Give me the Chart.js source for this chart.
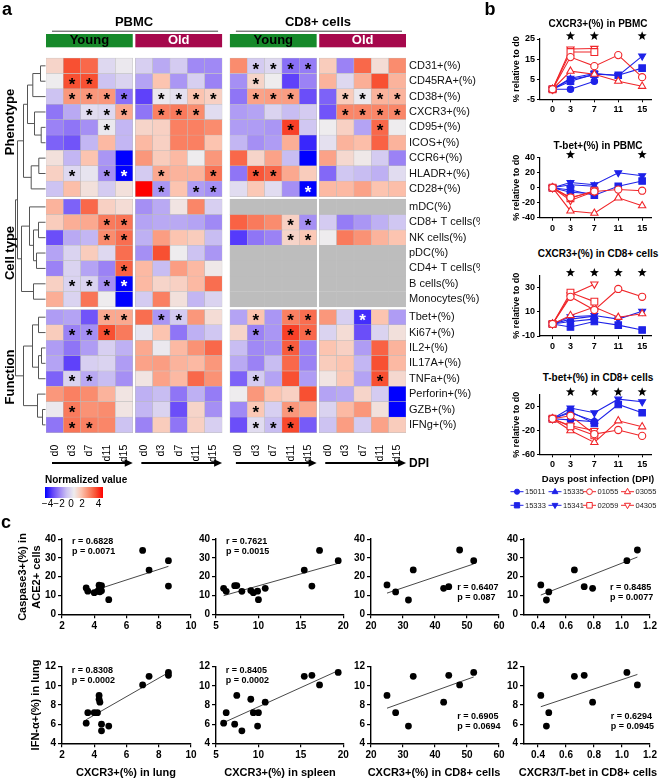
<!DOCTYPE html>
<html>
<head>
<meta charset="utf-8">
<script src="https://cdn.jsdelivr.net/npm/chart.js@4.4.1/dist/chart.umd.min.js"></script>
<style>
  html, body { margin: 0; padding: 0; background: #fff; }
  #page { position: relative; width: 659px; height: 779px; overflow: hidden;
          font-family: "Liberation Sans", Arial, Helvetica, sans-serif; color: #000; }
  .box { position: absolute; }
  .txt { position: absolute; white-space: nowrap; line-height: 1; transform: translate(-50%, -50%); }
</style>
</head>
<body>
<div id="page"></div>
<script>
// ---------- panel a : heatmap ----------
const rowNames = ['CD31+(%)', 'CD45RA+(%)', 'CD38+(%)', 'CXCR3+(%)', 'CD95+(%)', 'ICOS+(%)', 'CCR6+(%)', 'HLADR+(%)', 'CD28+(%)',
  'mDC(%)', 'CD8+ T cells(%)', 'NK cells(%)', 'pDC(%)', 'CD4+ T cells(%)', 'B cells(%)', 'Monocytes(%)',
  'Tbet+(%)', 'Ki67+(%)', 'IL2+(%)', 'IL17A+(%)', 'TNFa+(%)', 'Perforin+(%)', 'GZB+(%)', 'IFNg+(%)'];
const rowBlocks = ['Phenotype', 'Cell type', 'Function'];
const dayLabels = ['d0', 'd3', 'd7', 'd11', 'd15'];
const groupNames = ['Young', 'Old', 'Young', 'Old'];
const tissueNames = ['PBMC', 'CD8+ cells'];
const NA = [null, null, null, null, null];

const pbmcYoung = [
  [0.6, 3, 2.6, -0.5, -0.1], [0, 3, 3, -1, -0.6], [-1, 1.8, 1.8, 1.8, -2.3], [-2.2, -1.4, -0.4, -0.5, 1.5],
  [-2, -2.2, -1.8, -0.1, -1.2], [-2.5, -2.7, -1.2, 1.2, -1.2], [0.3, -1.2, 1, -1.7, -4], [0.7, -0.5, -0.2, -1.8, -4],
  [-1, 1.1, 0.3, -0.8, 0.3],
  [1.3, -2.5, 2.6, 0.7, 0.4], [0.8, 1.4, 1.5, 2.3, 2.4], [-2.8, -1.4, -1.2, 2, 2.5], [-1.5, -0.6, 0.8, -0.5, 2.5],
  [-2, -0.6, -1.5, -2, 2.7], [0.7, -0.6, -0.6, -1.8, -4], [1.4, -0.6, 2.4, 0, -4],
  [-1.6, -1.5, -2.7, 1.5, 1.5], [0.8, -2, -1.8, 3, 2.3], [-1.6, -2.2, -1.6, -0.7, -1.3], [-1.5, -3, -0.7, -0.6, -1.6],
  [-2.5, -0.6, -1.4, -1.1, -1.8], [1.8, 2.2, 2, 1.3, 0.2], [-0.1, 2.3, 1.9, 2, 0.2], [-2.2, 2.4, 2.2, 2.1, -1]
];
const pbmcOld = [
  [-0.7, -1.4, -0.8, -1.9, -1.9], [-1.5, 1, -1.7, -0.7, -2], [-3, -0.1, -0.3, 1, 0.7], [-2.2, 2.2, 2.3, 2, -0.4],
  [0.6, 0.7, 2.2, 2.2, 2], [1.2, 0.7, 2.2, 2.2, 1], [1.8, 0.8, 1.2, 0, 1.8], [-0.8, 1.5, 1.3, 1.3, 2.4],
  [4, -1.7, 1, -1.6, -1.8],
  [-1.8, -1.4, 0.2, 2.1, -0.7], [-1.5, -1.4, -1.4, -1.5, -1.9], [-1.3, 1.7, 1, 0.8, -1.1], [-1.8, 3, 0, -1, -1.7],
  [1.2, -1.1, 1.7, 1.2, 0.1], [1.2, 0.6, 0.7, 1.2, 2.5], [-0.8, 2.2, 0.3, -1.2, -0.6],
  [2.5, -1.7, -0.8, 1.8, 0.4], [-0.2, 1, -2.2, -1.3, -0.9], [1.5, -0.1, 1.2, 1.9, 2.6], [1.6, 1.7, 1.3, 1.2, 1.8],
  [0.2, 1.6, 1.2, 2.6, 1.9], [-1.3, -1.1, -2.2, -1.3, -2.1], [-1.2, -0.6, -2.8, 0.6, -1.8], [-2, 0.8, -2.2, 0.7, -0.7]
];
const cd8Young = [
  [2, -0.8, -0.5, -2.3, -2.1], [-1.8, 0.6, 0, -3, -2], [-2.2, 1.6, 1.7, 1.7, -2.8], [-1.6, -1.5, -0.6, -1.1, -0.8],
  [-1.6, -1.6, -1.7, 3.2, -0.9], [-1.2, -1.8, -1.6, 1.4, -3.4], [2.6, 0.6, 1.6, -1.1, -4], [-2.2, 2.9, 2.6, 1.5, 0.8],
  [-0.4, 0.9, -0.4, -1.8, -4],
  NA, [2.7, 2.3, 2, 0.7, -1.8], [-3.1, -2.2, -2, 0.6, 0.9], NA, NA, NA, NA,
  [-1.5, 1, -1.7, 2.2, 2.5], [0.6, -2, -1.7, 3.2, 2.6], [-1.1, -1.9, -1.8, 2.8, -2], [-1.4, -2, -1.1, 2.6, -2],
  [-2.5, -0.8, -1.5, 3, -1.6], [0, 1.8, 1, 0.7, 3], [-1.9, 0.9, -0.7, 1.8, 1.5], [-2.8, -0.4, -1.1, 3.1, -2.6]
];
const cd8Old = [
  [0.8, -2, 2.6, 0.4, 2], [1.3, -0.5, 1.4, 3, 1.3], [-2.5, 0.8, -0.1, 1.3, 1.3], [-2.7, 2.1, 2.1, 2.1, 2.1],
  [0, 0.7, -1.5, 2.6, 0], [-0.3, 1.3, 1.1, 2.7, 1.3], [1.6, 0.5, 0.1, -0.8, -2], [-2.4, -0.9, -1.1, -1.3, -0.4],
  [1.2, 1.2, 1.6, 1, 1.1],
  NA, [-0.8, -2.1, -1.7, -1.3, -0.9], [0, 2.3, 1.9, 1.3, 1], NA, NA, NA, NA,
  [1.8, -0.7, -3.3, 1, -1.6], [-0.6, 0.4, -2.8, -0.6, 0.3], [1, 0.7, -1.6, 2.7, 1.3], [0.8, 1, -1.2, 3, 1.2],
  [0.2, 0.9, -1.5, 3, 0.5], [-1.5, -1.4, 0.6, -0.8, -4], [-0.6, 1.2, 1.8, 0.3, -4], [-1, 1.7, -0.8, 1.6, 0.8]
];
// significance marks: 1 = black star, 2 = white star
const pbmcYoungSig = ['00000', '01100', '01111', '00111', '00010', '00000', '00000', '01012', '00000',
  '00000', '00011', '00011', '00000', '00001', '01112', '00000',
  '00011', '01110', '00000', '00000', '01100', '00000', '01000', '01100'];
const pbmcOldSig = ['00000', '00000', '01111', '01110', '00000', '00000', '00000', '01001', '01011',
  '00000', '00000', '00000', '00000', '00000', '00000', '00000',
  '01100', '00000', '00000', '00000', '00000', '00000', '00000', '00000'];
const cd8YoungSig = ['01111', '01000', '01110', '00000', '00010', '00000', '00000', '01100', '00002',
  '00000', '00011', '00011', '00000', '00000', '00000', '00000',
  '01011', '01011', '00010', '00000', '01000', '00000', '01010', '01110'];
const cd8OldSig = ['00000', '00000', '01111', '01111', '00010', '00000', '00000', '00000', '00000',
  '00000', '00000', '00000', '00000', '00000', '00000', '00000',
  '00200', '00000', '00000', '00000', '00010', '00000', '00000', '00000'];
// row clustering: [left, right, height]; negative = earlier merge (-1 -> merge 0)
const dendroMerges = [
  [0, 1, 5], [-1, 2, 12.7], [4, 5, 4.3], [3, -3, 11], [-2, -4, 18], [6, 7, 6.7], [-6, 8, 14.3], [-5, -7, 22],
  [10, 11, 7], [12, 13, 9], [-9, -10, 12], [9, -11, 16], [14, 15, 12], [-12, -13, 24],
  [18, 19, 4], [-15, 20, 7], [16, 17, 7], [-17, -16, 13], [22, 23, 3], [21, -19, 8], [-18, -20, 22],
  [-8, -14, 28], [-22, -21, 30]
];
const colorTicks = [-4, -2, 0, 2, 4];

// ---------- panel b : longitudinal ----------
const days = [0, 3, 7, 11, 15];
const subjects = ['15011', '15333', '15335', '15341', '01055', '02059', '03055', '04305'];
const cxcr3PbmcRel = [[0, 0, 4], [0, 4, 7.5, 7, 10.5], [0, 5, 7], [0, 5.5, 7.8, 6.8, 16.5],
  [0, 16, 11.5, 17, 6], [0, 18.5, 18.5], [0, 9, 7.5, 4, 1.5], [0, 20, 20.3]];
const tbetPbmcRel = [[0, -6, -8], [0, -3, -10, 2, 9], [0, 4, 2], [0, 7, 4, 20, 16],
  [0, -13, -5, -2.5, -4], [0, -14, -4], [0, -31, -34, -13.5, -24], [0, -17, -5]];
const cxcr3Cd8Rel = [[0, 2, 4], [0, -2.5, 2, -1, -5], [0, 4, 6.5], [0, 6, 7, 4, 10.5],
  [0, 22.5, 11.5, 29, 22.5], [0, 26, 18.5], [0, 7, 14, 5.5, 8.5], [0, 24, 33]];
const tbetCd8Rel = [[0, -2, -5], [0, 12, -8, 24, 10], [0, 10, -4], [0, 18, 10, 33, 28.5],
  [0, 5, -26, -19, -29], [0, -13, -28], [0, -20, -40, -3.5, -13.5], [0, -12, -20]];
const cxcr3PbmcSig = [3, 7, 15];
const tbetPbmcSig = [3, 15];
const cxcr3Cd8Sig = [3, 7, 11, 15];
const tbetCd8Sig = [3, 7, 11, 15];

// ---------- panel c : correlations ----------
const lungCxcr3 = [3.5, 3.6, 4.0, 4.2, 4.3, 4.3, 4.35, 4.45, 4.45, 4.9, 7.0, 7.4, 8.6, 8.6];
const caspaseByLung = [14.0, 12.3, 11.5, 12.2, 15.5, 13.2, 12.0, 15.2, 12.5, 7.8, 34.0, 23.5, 15.0, 28.5];
const ifnByLung = [6.1, 7.2, 7.2, 7.2, 9.0, 8.6, 8.3, 6.0, 5.3, 5.8, 10.1, 11.0, 11.1, 11.4];
const spleenCxcr3 = [5.9, 6.2, 7.2, 7.45, 8.05, 9.1, 9.4, 9.9, 10.0, 10.8, 15.4, 16.3, 17.2, 19.4];
const caspaseBySpleen = [13.8, 12.2, 15.2, 15.3, 12.2, 12.6, 11.5, 12.3, 7.8, 13.8, 23.5, 15.0, 34.0, 28.5];
const ifnBySpleen = [6.1, 7.2, 6.0, 9.0, 5.3, 8.6, 7.2, 5.8, 7.2, 8.3, 11.0, 11.1, 10.1, 11.4];
const cd8Cxcr3 = [25, 27.7, 31.7, 33.2, 42.7, 44.3, 47.7, 52.1];
const cd8Ratio = [0.42, 0.477, 0.46, 0.66, 0.79, 0.73, 1.11, 1.035];
const caspaseByCd8 = [15.6, 11.9, 7.6, 23.6, 13.8, 14.7, 34.2, 28.5];
const ifnByCd8 = [9.0, 7.2, 5.8, 11.0, 8.3, 11.1, 10.1, 11.4];
const statTop = [['r = 0.6828', 'p = 0.0071'], ['r = 0.7621', 'p = 0.0015'], ['r = 0.6407', 'p = 0.087'], ['r = 0.8485', 'p = 0.0077']];
const statBottom = [['r = 0.8308', 'p = 0.0002'], ['r = 0.8405', 'p = 0.0002'], ['r = 0.6905', 'p = 0.0694'], ['r = 0.6294', 'p = 0.0945']];

// =====================================================================
const FONT = '"Liberation Sans", Arial, Helvetica, sans-serif';
Chart.defaults.font.family = FONT;
Chart.defaults.color = '#000';
const page = document.getElementById('page');
const BLUE = '#1e22e8', RED = '#f0262a';

function place(left, top, w, h) {
  const div = document.createElement('div');
  div.className = 'box';
  div.style.cssText = `left:${left}px;top:${top}px;width:${w}px;height:${h}px`;
  const cv = document.createElement('canvas');
  cv.width = w; cv.height = h;
  cv.style.width = w + 'px'; cv.style.height = h + 'px';
  div.appendChild(cv);
  page.appendChild(div);
  return cv;
}
function text(str, x, y, css, anchor) {
  const d = document.createElement('div');
  d.className = 'txt';
  d.textContent = str;
  d.style.cssText = `left:${x}px;top:${y}px;` + (css || '');
  if (anchor === 'left') d.style.transform = 'translate(0,-50%)';
  if (anchor === 'rot') d.style.transform = 'translate(-50%,-50%) rotate(-90deg)';
  page.appendChild(d);
  return d;
}

const colorStops = [[-4, [0, 0, 255]], [-3, [95, 65, 250]], [-2, [155, 130, 245]], [-1, [205, 195, 242]],
  [0, [238, 236, 238]], [1, [252, 196, 176]], [2, [250, 140, 110]], [3, [248, 80, 50]], [4, [255, 0, 0]]];
function heatColor(v) {
  if (v <= colorStops[0][0]) return `rgb(${colorStops[0][1]})`;
  for (let i = 1; i < colorStops.length; i++) {
    if (v <= colorStops[i][0]) {
      const [v0, c0] = colorStops[i - 1], [v1, c1] = colorStops[i];
      const t = (v - v0) / (v1 - v0);
      return `rgb(${c0.map((c, k) => Math.round(c + (c1[k] - c) * t)).join(',')})`;
    }
  }
  return 'rgb(255,0,0)';
}

// ---------- heatmap ----------
const groupVals = [pbmcYoung, pbmcOld, cd8Young, cd8Old];
const groupSigs = [pbmcYoungSig, pbmcOldSig, cd8YoungSig, cd8OldSig];
const groupOffsets = [0, 5.15, 10.6, 15.75];
const ROW_GAP = 0.17;
const hmRows = rowNames.map((_, i) => i + 0.5 + ROW_GAP * ((i >= 9) + (i >= 16)));
const colCenters = [];
groupOffsets.forEach(o => dayLabels.forEach((_, c) => colCenters.push(o + c + 0.5)));

const hmDatasets = groupVals.map((vals, g) => {
  const data = [], bg = [], bd = [];
  vals.forEach((row, r) => row.forEach((v, c) => {
    data.push({ x: [groupOffsets[g] + c, groupOffsets[g] + c + 1], y: hmRows[r] });
    bg.push(v === null ? '#bdbdbd' : heatColor(v));
    bd.push(v === null ? '#bdbdbd' : '#bcbcbc');
  }));
  return { data, backgroundColor: bg, borderColor: bd, borderWidth: 0.5, borderSkipped: false };
});

function drawArrow(ctx, x0, x1, y) {
  ctx.beginPath(); ctx.moveTo(x0, y); ctx.lineTo(x1 - 6, y); ctx.stroke();
  ctx.beginPath(); ctx.moveTo(x1, y); ctx.lineTo(x1 - 8, y - 3.8); ctx.lineTo(x1 - 8, y + 3.8); ctx.closePath(); ctx.fill();
}

const heatDecor = {
  id: 'heatDecor',
  afterDatasetsDraw(chart) {
    const { ctx, scales: { x, y } } = chart;
    ctx.save();
    ctx.font = `bold 17px ${FONT}`;
    ctx.textAlign = 'center'; ctx.textBaseline = 'middle';
    groupSigs.forEach((sig, g) => sig.forEach((s, r) => {
      for (let c = 0; c < 5; c++) {
        if (s[c] === '0') continue;
        ctx.fillStyle = s[c] === '2' ? '#fff' : '#000';
        ctx.fillText('*', x.getPixelForValue(groupOffsets[g] + c + 0.5), y.getPixelForValue(hmRows[r]) + 4);
      }
    }));
    ctx.restore();
  },
  afterDraw(chart) {
    const { ctx, chartArea: area, scales: { x, y } } = chart;
    ctx.save();
    ctx.textAlign = 'center'; ctx.textBaseline = 'middle';
    // group header bars
    groupNames.forEach((name, g) => {
      const x0 = x.getPixelForValue(groupOffsets[g]), x1 = x.getPixelForValue(groupOffsets[g] + 5);
      ctx.fillStyle = g % 2 ? '#a6084c' : '#16892a';
      ctx.fillRect(x0, area.top - 16, x1 - x0, 13.3);
      ctx.fillStyle = g % 2 ? '#fff' : '#000';
      ctx.font = `bold 13px ${FONT}`;
      ctx.fillText(name, (x0 + x1) / 2, area.top - 9.2);
    });
    tissueNames.forEach((name, t) => {
      const x0 = x.getPixelForValue(groupOffsets[2 * t]), x1 = x.getPixelForValue(groupOffsets[2 * t + 1] + 5);
      ctx.fillStyle = '#000';
      ctx.font = `bold 13px ${FONT}`;
      ctx.fillText(name, (x0 + x1) / 2, area.top - 27.5);
      ctx.strokeStyle = '#444'; ctx.lineWidth = 1;
      ctx.beginPath(); ctx.moveTo(x0 + 6, area.top - 18.8); ctx.lineTo(x1 - 4, area.top - 18.8); ctx.stroke();
    });
    // DPI arrows
    ctx.strokeStyle = '#000'; ctx.fillStyle = '#000'; ctx.lineWidth = 2;
    groupOffsets.forEach(o => drawArrow(ctx, x.getPixelForValue(o) + 6, x.getPixelForValue(o + 5), area.bottom + 22.3));
    ctx.font = `bold 12px ${FONT}`; ctx.textAlign = 'left';
    ctx.fillText('DPI', x.getPixelForValue(groupOffsets[3] + 5) + 3, area.bottom + 22.8);
    // dendrogram
    const leafX = area.left - 0.5, pos = [];
    const node = k => k >= 0 ? { x: leafX, y: y.getPixelForValue(hmRows[k]) } : pos[-k - 1];
    ctx.strokeStyle = '#555'; ctx.lineWidth = 1;
    dendroMerges.forEach(([a, b, h]) => {
      const A = node(a), B = node(b), nx = leafX - h;
      ctx.beginPath();
      ctx.moveTo(A.x, A.y); ctx.lineTo(nx, A.y); ctx.lineTo(nx, B.y); ctx.lineTo(B.x, B.y);
      ctx.stroke();
      pos.push({ x: nx, y: (A.y + B.y) / 2 });
    });
    ctx.restore();
  }
};

const HM_W = 480, HM_H = 515;
new Chart(place(0, 0, HM_W, HM_H), {
  type: 'bar',
  data: { datasets: hmDatasets },
  options: {
    indexAxis: 'y', responsive: false, animation: false, events: [],
    datasets: { bar: { grouped: false, barPercentage: 1, categoryPercentage: 1 } },
    layout: { padding: { left: 46, top: 50, right: 0, bottom: 0 } },
    plugins: { legend: { display: false }, tooltip: { enabled: false } },
    scales: {
      x: {
        type: 'linear', position: 'bottom', min: 0, max: 20.75,
        grid: { display: false, drawTicks: false, tickLength: 0 }, border: { display: false },
        afterBuildTicks: s => { s.ticks = colCenters.map(v => ({ value: v })); },
        ticks: { autoSkip: false, minRotation: 90, maxRotation: 90, padding: 4, font: { size: 10.5 }, color: '#000',
          callback: (v, i) => dayLabels[i % 5] },
        afterFit: s => { s.height = HM_H - 440.7; }
      },
      y: {
        type: 'linear', position: 'right', reverse: true, min: 0, max: 24 + 2 * ROW_GAP,
        grid: { display: false, drawTicks: false, tickLength: 0 }, border: { display: false },
        afterBuildTicks: s => { s.ticks = hmRows.map(v => ({ value: v })); },
        ticks: { autoSkip: false, padding: 3, font: { size: 11 }, color: '#111', callback: (v, i) => rowNames[i] },
        afterFit: s => { s.width = HM_W - 406; }
      }
    }
  },
  plugins: [heatDecor]
});

// heatmap side texts and colour key
text('a', 7, 9, 'font-size:18px;font-weight:bold;');
const blockCenters = [122, 253, 377];
rowBlocks.forEach((b, i) => text(b, 9, blockCenters[i], 'font-size:13px;font-weight:bold;', 'rot'));
text('Normalized value', 45, 479.7, 'font-size:10px;font-weight:bold;', 'left');
const key = document.createElement('div');
key.className = 'box';
const keyStops = [-4, -3, -2, -1, 0, 1, 2, 3, 4].map((v, i) => `${heatColor(v)} ${i * 12.5}%`).join(',');
key.style.cssText = `left:45px;top:486.7px;width:58px;height:11px;background:linear-gradient(to right,${keyStops});`;
page.appendChild(key);
const keyX = [47.5, 59, 71, 82, 98.5];
colorTicks.forEach((v, i) => text(v < 0 ? '\u2212' + (-v) : String(v), keyX[i], 503.5, 'font-size:10px;'));

// ---------- panel b ----------
const subjectLook = {
  '15011': { c: BLUE, s: 'circle', fill: true, r: 3.2 },
  '15333': { c: BLUE, s: 'rect', fill: true, r: 4.6 },
  '15335': { c: BLUE, s: 'triangle', fill: true, r: 4 },
  '15341': { c: BLUE, s: 'triangleDown', fill: true, r: 4 },
  '01055': { c: RED, s: 'circle', fill: false, r: 3.6 },
  '02059': { c: RED, s: 'rect', fill: false, r: 4.8 },
  '03055': { c: RED, s: 'triangle', fill: false, r: 4.2 },
  '04305': { c: RED, s: 'triangleDown', fill: false, r: 4.2 }
};

function drawStar(ctx, cx, cy, r) {
  ctx.beginPath();
  for (let i = 0; i < 10; i++) {
    const a = -Math.PI / 2 + i * Math.PI / 5, rr = i % 2 ? r * 0.42 : r;
    ctx.lineTo(cx + rr * Math.cos(a), cy + rr * Math.sin(a));
  }
  ctx.closePath(); ctx.fill();
}
function drawMarker(ctx, look, x, y) {
  const r = look.r * 0.8;
  ctx.beginPath();
  if (look.s === 'circle') ctx.arc(x, y, r, 0, Math.PI * 2);
  else if (look.s === 'rect') ctx.rect(x - r * 0.72, y - r * 0.72, r * 1.44, r * 1.44);
  else if (look.s === 'triangle') { ctx.moveTo(x, y - r); ctx.lineTo(x + r * 0.9, y + r * 0.6); ctx.lineTo(x - r * 0.9, y + r * 0.6); }
  else { ctx.moveTo(x, y + r); ctx.lineTo(x + r * 0.9, y - r * 0.6); ctx.lineTo(x - r * 0.9, y - r * 0.6); }
  ctx.closePath();
  ctx.fillStyle = look.fill ? look.c : '#fff'; ctx.fill();
  ctx.strokeStyle = look.c; ctx.lineWidth = 1; ctx.stroke();
}

const sigStars = {
  id: 'sigStars',
  afterDraw(chart, args, opts) {
    const { ctx, chartArea, scales: { x } } = chart;
    ctx.save(); ctx.fillStyle = '#000';
    (opts.days || []).forEach(d => drawStar(ctx, x.getPixelForValue(d), chartArea.top - 3, 4.8));
    ctx.restore();
  }
};
const subjectLegend = {
  id: 'subjectLegend',
  afterDraw(chart, args, opts) {
    if (!opts.show) return;
    const { ctx } = chart, top = opts.top;
    const order = [['15011', '15335', '01055', '03055'], ['15333', '15341', '02059', '04305']];
    const mx = [517, 555, 589.5, 627.5], my = [491.7, 505.3];
    ctx.save();
    ctx.font = `7.5px ${FONT}`; ctx.textBaseline = 'middle'; ctx.textAlign = 'left';
    order.forEach((row, ri) => row.forEach((name, ci) => {
      const look = subjectLook[name], x = mx[ci] - 505, y = my[ri] - top;
      ctx.strokeStyle = look.c; ctx.lineWidth = 1;
      ctx.beginPath(); ctx.moveTo(x - 6.5, y); ctx.lineTo(x + 6.5, y); ctx.stroke();
      drawMarker(ctx, look, x, y);
      ctx.fillStyle = '#222';
      ctx.fillText(name, x + 8, y + 0.5);
    }));
    ctx.restore();
  }
};

const lineSpecs = [
  { title: 'CXCR3+(%) in PBMC', vals: cxcr3PbmcRel, sig: cxcr3PbmcSig, top: 39, bottom: 99.3, min: -5, max: 25, step: 5, titleY: 24 },
  { title: 'T-bet+(%) in PBMC', vals: tbetPbmcRel, sig: tbetPbmcSig, top: 157.7, bottom: 217.7, min: -40, max: 40, step: 20, titleY: 146 },
  { title: 'CXCR3+(%) in CD8+ cells', vals: cxcr3Cd8Rel, sig: cxcr3Cd8Sig, top: 275.7, bottom: 336, min: -10, max: 40, step: 10, titleY: 254 },
  { title: 'T-bet+(%) in CD8+ cells', vals: tbetCd8Rel, sig: tbetCd8Sig, top: 395, bottom: 454.3, min: -60, max: 40, step: 20, titleY: 378 }
];
const LB_LEFT = 505, LB_PLOT_L = 540, LB_PLOT_R = 651.7;

lineSpecs.forEach((spec, k) => {
  const T = Math.floor(spec.top) - 12;
  const B = k === 3 ? 515 : Math.ceil(spec.bottom) + 18;
  const cv = place(LB_LEFT, T, 659 - LB_LEFT, B - T);
  const order = [4, 5, 6, 7, 0, 2, 3, 1];
  const datasets = order.map(si => {
    const look = subjectLook[subjects[si]];
    return {
      label: subjects[si],
      data: spec.vals[si].map((v, i) => ({ x: days[i], y: v })),
      borderColor: look.c, borderWidth: 1.1,
      pointStyle: look.s === 'triangleDown' ? 'triangle' : look.s,
      pointRotation: look.s === 'triangleDown' ? 180 : 0,
      pointRadius: look.r, pointBorderWidth: 1.1,
      pointBackgroundColor: look.fill ? look.c : '#fff', pointBorderColor: look.c
    };
  });
  new Chart(cv, {
    type: 'line',
    data: { datasets },
    options: {
      responsive: false, animation: false, events: [],
      layout: { padding: { left: 6, top: spec.top - T, right: 659 - LB_PLOT_R, bottom: 0 } },
      plugins: { legend: { display: false }, tooltip: { enabled: false },
        sigStars: { days: spec.sig }, subjectLegend: { show: k === 3, top: T } },
      scales: {
        x: {
          type: 'linear', min: -2.1, max: 16.6,
          afterBuildTicks: s => { s.ticks = days.map(v => ({ value: v })); },
          grid: { drawOnChartArea: false, tickLength: 3, color: '#000', lineWidth: 1 },
          border: { color: '#000', width: 1.2 },
          ticks: { font: { size: 9, weight: 'bold' }, color: '#000', padding: 2 },
          afterFit: s => { s.height = B - spec.bottom; }
        },
        y: {
          type: 'linear', min: spec.min, max: spec.max,
          grid: { drawOnChartArea: false, tickLength: 3, color: '#000', lineWidth: 1 },
          border: { color: '#000', width: 1.2 },
          ticks: { stepSize: spec.step, font: { size: 9, weight: 'bold' }, color: '#000', padding: 2 },
          title: { display: true, text: '% relative to d0', font: { size: 9, weight: 'bold' }, padding: 0, color: '#000' },
          afterFit: s => { s.width = LB_PLOT_L - LB_LEFT - 6; }
        }
      }
    },
    plugins: [sigStars, subjectLegend]
  });
  text(spec.title, 598, spec.titleY, 'font-size:10px;font-weight:bold;');
});
text('b', 490, 9, 'font-size:18px;font-weight:bold;');
text('Days post infection (DPI)', 598, 479, 'font-size:9.5px;font-weight:bold;');

// ---------- panel c ----------
function fitLine(xs, ys) {
  const n = xs.length, mx = xs.reduce((a, b) => a + b) / n, my = ys.reduce((a, b) => a + b) / n;
  let sxy = 0, sxx = 0;
  xs.forEach((x, i) => { sxy += (x - mx) * (ys[i] - my); sxx += (x - mx) * (x - mx); });
  const m = sxy / sxx;
  return { m, b: my - m * mx };
}
function axisOpts(spec, size, horiz) {
  const o = {
    type: 'linear', min: spec.min, max: spec.max,
    grid: { drawOnChartArea: false, tickLength: 4, color: '#000', lineWidth: 1.2 },
    border: { color: '#000', width: 1.4 },
    ticks: { stepSize: spec.step, font: { size: 10, weight: 'bold' }, color: '#000', padding: 2 },
    afterFit: s => { if (horiz) s.height = size; else s.width = size; }
  };
  if (spec.ticks) {
    o.afterBuildTicks = s => { s.ticks = spec.ticks.map(v => ({ value: v })); };
    o.ticks.callback = v => v.toFixed(spec.dec || 0);
  }
  return o;
}
function scatterPanel(plot, xs, ys, xSpec, ySpec) {
  const L = Math.floor(plot.l) - 26, T = Math.floor(plot.t) - 8, R = Math.ceil(plot.r) + 10, B = Math.ceil(plot.b) + 20;
  const cv = place(L, T, R - L, B - T);
  const f = fitLine(xs, ys), x0 = Math.min(...xs), x1 = Math.max(...xs);
  new Chart(cv, {
    type: 'scatter',
    data: { datasets: [
      { data: xs.map((x, i) => ({ x, y: ys[i] })), pointRadius: 3.4, pointBackgroundColor: '#000', pointBorderWidth: 0, order: 1 },
      { data: [{ x: x0, y: f.b + f.m * x0 }, { x: x1, y: f.b + f.m * x1 }], showLine: true,
        borderColor: '#333', borderWidth: 0.9, pointRadius: 0, order: 2 }
    ] },
    options: {
      responsive: false, animation: false, events: [],
      layout: { padding: { left: 0, top: plot.t - T, right: R - plot.r, bottom: 0 } },
      plugins: { legend: { display: false }, tooltip: { enabled: false } },
      scales: { x: axisOpts(xSpec, B - plot.b, true), y: axisOpts(ySpec, plot.l - L, false) }
    }
  });
}
const cCols = [
  { l: 62, r: 191, x: { min: 2, max: 10, step: 2 } },
  { l: 216, r: 343.3, x: { min: 5, max: 20, step: 5 } },
  { l: 371, r: 499, x: { min: 20, max: 60, step: 10 } },
  { l: 524, r: 650, x: { min: 0.3, max: 1.2, ticks: [0.4, 0.6, 0.8, 1.0, 1.2], dec: 1 } }
];
const topY = { min: 0, max: 40, step: 10 }, botY = { min: 4, max: 12, step: 2 };
const cX = [lungCxcr3, spleenCxcr3, cd8Cxcr3, cd8Ratio];
const cTop = [caspaseByLung, caspaseBySpleen, caspaseByCd8, caspaseByCd8];
const cBot = [ifnByLung, ifnBySpleen, ifnByCd8, ifnByCd8];
cCols.forEach((col, i) => {
  scatterPanel({ l: col.l, r: col.r, t: 539.1, b: 614.3 }, cX[i], cTop[i], col.x, topY);
  scatterPanel({ l: col.l, r: col.r, t: 666.7, b: 743.3 }, cX[i], cBot[i], col.x, botY);
});
text('c', 6, 522, 'font-size:18px;font-weight:bold;');
const statPosTop = [[72, 541.3], [226, 541.3], [457.3, 587.3], [610, 587.3]];
const statPosBot = [[71.7, 670], [225.7, 670], [457.3, 715.7], [610.7, 715.7]];
statTop.forEach((s, i) => {
  text(s[0], statPosTop[i][0], statPosTop[i][1], 'font-size:9px;font-weight:bold;', 'left');
  text(s[1], statPosTop[i][0], statPosTop[i][1] + 9.5, 'font-size:9px;font-weight:bold;', 'left');
});
statBottom.forEach((s, i) => {
  text(s[0], statPosBot[i][0], statPosBot[i][1], 'font-size:9px;font-weight:bold;', 'left');
  text(s[1], statPosBot[i][0], statPosBot[i][1] + 10, 'font-size:9px;font-weight:bold;', 'left');
});
text('Caspase3+(%) in', 22, 577, 'font-size:11px;font-weight:bold;', 'rot');
text('ACE2+ cells', 36, 577, 'font-size:11px;font-weight:bold;', 'rot');
text('IFN-\u03b1+(%) in lung', 35, 705, 'font-size:11px;font-weight:bold;', 'rot');
const cTitles = ['CXCR3+(%) in lung', 'CXCR3+(%) in spleen', 'CXCR3+(%) in CD8+ cells', 'CXCR3/T-bet in CD8+ cells'];
const cTitleX = [126, 280, 434, 588];
cTitles.forEach((t, i) => text(t, cTitleX[i], 771.5, 'font-size:11px;font-weight:bold;'));
</script>
</body>
</html>
